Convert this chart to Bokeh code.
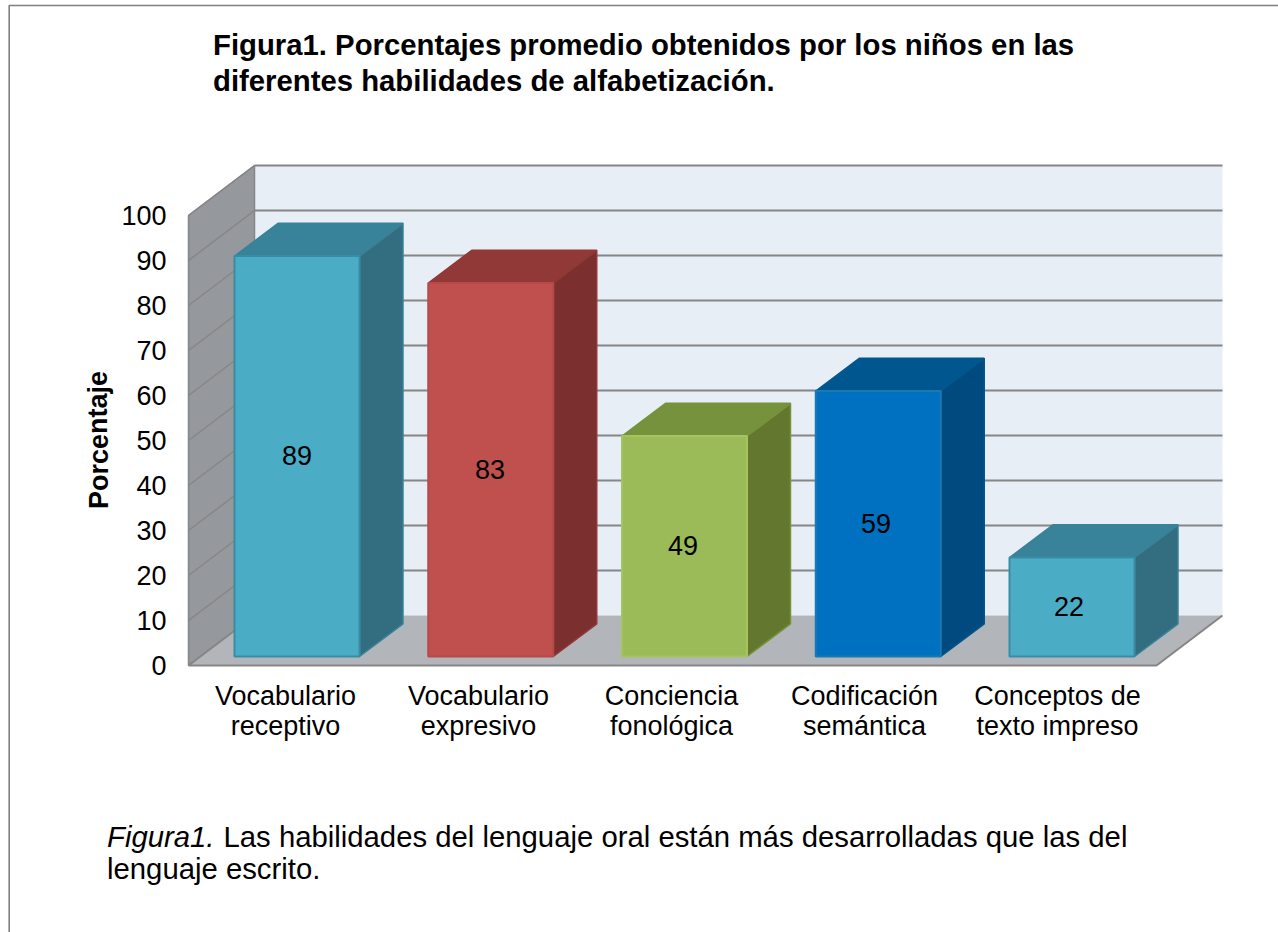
from bokeh.embed import file_html
from bokeh.resources import INLINE
from bokeh.plotting import figure
from bokeh.models import Range1d, LinearAxis, FixedTicker, Label, ColumnDataSource
from bokeh.core.properties import value as fval

# ---- data ----
categories = ["Vocabulario\nreceptivo", "Vocabulario\nexpresivo", "Conciencia\nfonológica",
              "Codificación\nsemántica", "Conceptos de\ntexto impreso"]
values = [89, 83, 49, 59, 22]
y_ticks = [0, 10, 20, 30, 40, 50, 60, 70, 80, 90, 100]
front_colors = ["#4BACC6", "#C0504D", "#9BBB59", "#0070C0", "#4BACC6"]
side_colors = ["#326E80", "#7B302F", "#63772F", "#004A80", "#326E80"]
top_colors = ["#38829A", "#903936", "#76923C", "#00568F", "#38829A"]
edge_colors = ["#3A8CA5", "#B8494A", "#A3C45F", "#1A78B4", "#3A8CA5"]
title_lines = ["Figura1. Porcentajes promedio obtenidos por los niños en las",
               "diferentes habilidades de alfabetización."]
caption_lead = "Figura1."
caption_rest = "Las habilidades del lenguaje oral están más desarrolladas que las del"
caption_second = "lenguaje escrito."
y_title = "Porcentaje"

# ---- layout constants (page pixels) ----
FONT = "Liberation Sans"
W, H, LEFT, TOP = 1278, 932, 0, 0
X_ORIGIN, X_STEP = 285.0, 193.0     # first category centre on the front plane; category spacing
BAR_STEP = 193.75 / X_STEP          # bars sit on a plane with a slightly wider spacing
Y_ZERO, Y_UNIT = 665.0, 4.5         # value 0 on the front plane; pixels per percent
WALL_L, WALL_DX, WALL_DY = 188.0, 66.0, 50.0
FLOOR_LEN = 968.0


def ux(px):
    return (px - X_ORIGIN) / X_STEP


def uy(py):
    return (Y_ZERO - py) / Y_UNIT


dx_wall = WALL_DX / X_STEP
dy_wall = WALL_DY / Y_UNIT
x_wall = ux(WALL_L)
x_floor = x_wall + FLOOR_LEN / X_STEP
GRID = "#868686"

p = figure(width=W, height=H, output_backend="svg", toolbar_location=None,
           x_range=Range1d(ux(LEFT), ux(LEFT + W)), y_range=Range1d(uy(TOP + H), uy(TOP)),
           x_axis_type=None, y_axis_type=None, min_border=0, outline_line_color=None,
           background_fill_color="white", border_fill_color="white")
p.grid.visible = False

# outer page frame
p.line([ux(1278), ux(8.7), ux(8.7)], [uy(5), uy(5), uy(932)], line_color="#7F7F7F", line_width=1.6)

# walls and floor
ymax = y_ticks[-1]
x_back_l = x_wall + dx_wall
x_back_r = x_floor + dx_wall
p.patch([x_back_l, x_back_r, x_back_r, x_back_l],
        [dy_wall, dy_wall, ymax + dy_wall, ymax + dy_wall], fill_color="#E7EEF6", line_color=None)
p.patch([x_wall, x_back_l, x_back_l, x_wall],
        [0, dy_wall, ymax + dy_wall, ymax], fill_color="#95989C", line_color=GRID, line_width=1.5)

# gridlines on back wall and left wall
for t in y_ticks[1:]:
    yb = t + dy_wall
    p.line([x_wall, x_back_l], [t, yb], line_color=GRID, line_width=1.5)
    p.line([x_back_l, x_back_r], [yb, yb], line_color=GRID, line_width=2.2)

# floor
p.patch([x_wall, x_back_l, x_back_r, x_floor], [0, dy_wall, dy_wall, 0],
        fill_color="#B2B6BA", line_color=None)
p.line([x_back_r, x_floor, x_wall, x_back_l], [dy_wall, 0, 0, dy_wall], line_color=GRID, line_width=2)

# bars
BAR_DX_PX, BAR_HALF_PX = 11.5, 62.5
DEPTH_X, DEPTH_Y = 43.5 / X_STEP, 32.7 / Y_UNIT
base = 9.0 / Y_UNIT
half = BAR_HALF_PX / X_STEP
for i, v in enumerate(values):
    cx = i * BAR_STEP + BAR_DX_PX / X_STEP
    l, r = cx - half, cx + half
    b, t = base, base + v
    p.patch([r, r + DEPTH_X, r + DEPTH_X, r], [b, b + DEPTH_Y, t + DEPTH_Y, t],
            fill_color=side_colors[i], line_color=top_colors[i], line_width=1.5)
    p.patch([l, r, r + DEPTH_X, l + DEPTH_X], [t, t, t + DEPTH_Y, t + DEPTH_Y],
            fill_color=top_colors[i], line_color=top_colors[i], line_width=1.5)
    p.patch([l, r, r, l], [b, b, t, t], fill_color=front_colors[i],
            line_color=edge_colors[i], line_width=2)

# value labels
src = ColumnDataSource(dict(x=[i + BAR_DX_PX / X_STEP for i in range(len(values))],
                            y=[base + v / 2 + 0.15 for v in values],
                            t=[str(v) for v in values]))
p.text("x", "y", text="t", source=src, text_font=fval(FONT), text_font_size="27px",
       text_align="center", text_baseline="middle", text_color="black")

# axes
ax_y = LinearAxis(fixed_location=x_wall, ticker=FixedTicker(ticks=y_ticks),
                  axis_line_color=None, major_tick_line_color=None, minor_tick_line_color=None,
                  major_label_text_font=FONT, major_label_text_font_size="27px",
                  major_label_text_color="black", major_label_standoff=16)
p.add_layout(ax_y, "left")
ax_x = LinearAxis(fixed_location=0, ticker=FixedTicker(ticks=list(range(len(categories)))),
                  major_label_overrides={i: c for i, c in enumerate(categories)},
                  axis_line_color=None, major_tick_line_color=None, minor_tick_line_color=None,
                  major_label_text_font=FONT, major_label_text_font_size="27px",
                  major_label_text_line_height=1.0,
                  major_label_text_color="black", major_label_standoff=9)
p.add_layout(ax_x, "below")


def put(text, px, py, size, style="normal", angle=0.0, align="left", baseline="alphabetic"):
    p.add_layout(Label(x=ux(px), y=uy(py), text=text, text_font=FONT, text_font_size=size,
                       text_font_style=style, text_color="black", angle=angle,
                       text_align=align, text_baseline=baseline))


put(title_lines[0], 212.5, 44, "29.3px", "bold")
put(title_lines[1], 212.5, 80, "29.3px", "bold")
put(y_title, 98, 439.5, "27px", "bold", angle=1.5708, align="center", baseline="middle")
put(caption_lead, 106.5, 836, "29.3px", "italic")
put(caption_rest, 223, 836, "29.3px")
put(caption_second, 106.5, 868, "29.3px")

open("out.html", "w").write(file_html(p, INLINE))
